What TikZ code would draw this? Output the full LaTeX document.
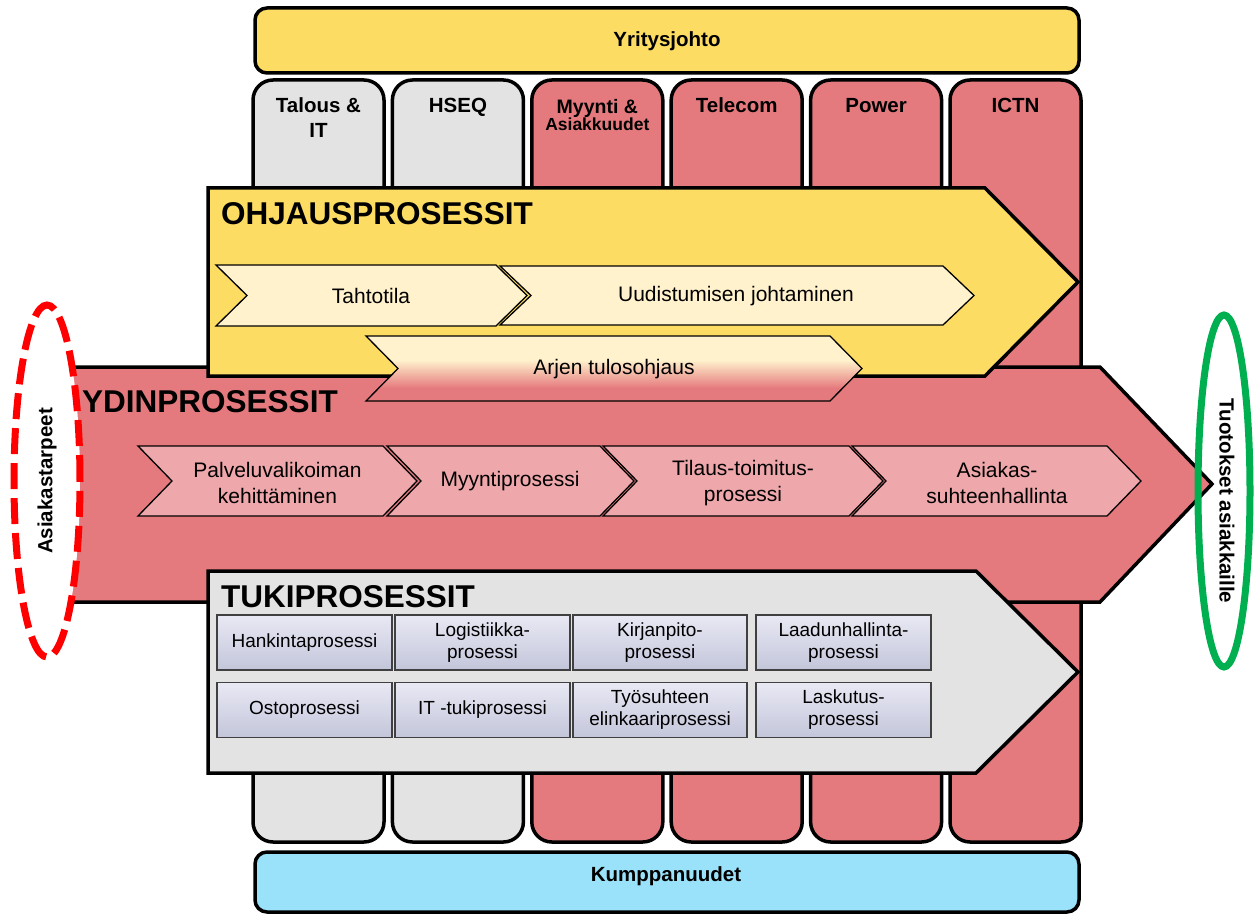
\documentclass[tikz,border=0pt]{standalone}
\usepackage{fontspec}
\setmainfont{Liberation Sans}

\definecolor{ohjY}{HTML}{FCDC62}
\definecolor{ydinR}{HTML}{E57A7E}
\definecolor{tukiG}{HTML}{E3E3E3}
\definecolor{kumpB}{HTML}{99E2FA}
\definecolor{creamC}{HTML}{FFF2CC}
\definecolor{pinkC}{HTML}{EEA7AA}
\definecolor{boxTop}{HTML}{E9E9F4}
\definecolor{boxBot}{HTML}{C3C5DA}
\definecolor{needRed}{HTML}{FF0000}
\definecolor{outGreen}{HTML}{00B050}

\tikzset{
  heavy/.style={draw=black, line width=3.5pt, line join=miter},
  unitbox/.style={heavy, rounded corners=20pt},
  bandbox/.style={heavy, rounded corners=12pt},
  unitlabel/.style={font=\bfseries\fontsize{20.5}{25}\selectfont, align=center, inner sep=0pt},
  bigtitle/.style={font=\bfseries\fontsize{31.5}{36}\selectfont, inner sep=0pt, anchor=base west},
  chev/.style={draw=black, line width=1.3pt, line join=miter},
  chevtext/.style={font=\fontsize{21}{25.5}\selectfont, align=center, inner sep=0pt},
  supbox/.style={draw=black!75, line width=1.3pt, top color=boxTop, bottom color=boxBot,
    minimum width=175pt, minimum height=55pt, inner sep=0pt, align=center,
    font=\fontsize{19}{22}\selectfont},
  oval/.style={line width=7pt},
  ovaltext/.style={font=\bfseries\fontsize{20.5}{24}\selectfont, inner sep=0pt},
}

% chevron: left x, right x, top y, bottom y, point depth, fill
\newcommand\chevron[6]{%
  \filldraw[chev, fill=#6] (#1,#3) -- (#2,#3) -- ({#2+#5},{(#3+#4)/2}) -- (#2,#4)
    -- (#1,#4) -- ({#1+#5},{(#3+#4)/2}) -- cycle;}

\begin{document}
\begin{tikzpicture}[x=1pt, y=-1pt]
\useasboundingbox (0,0) rectangle (1259,915);

% organisation units (columns)
\foreach \i/\c in {0/tukiG,1/tukiG,2/ydinR,3/ydinR,4/ydinR,5/ydinR}{
  \filldraw[unitbox, fill=\c] ({253+139.4*\i},80) rectangle ({384+139.4*\i},842);
}
\node[unitlabel] (talous) at (318.5,118) {Talous \&\\IT};
\node[unitlabel, anchor=base] (hseq) at (457.9,113) {HSEQ};
\node[align=center, inner sep=0pt, font=\bfseries] (myynti) at (597.3,115)
  {\fontsize{19.5}{22}\selectfont Myynti \&\\\fontsize{17.5}{22}\selectfont Asiakkuudet};
\node[unitlabel, anchor=base] (telecom) at (736.7,113) {Telecom};
\node[unitlabel, anchor=base] (power) at (876.1,113) {Power};
\node[unitlabel, anchor=base] (ictn) at (1015.5,113) {ICTN};

% top and bottom bands
\filldraw[bandbox, fill=ohjY] (255,8) rectangle (1079,73);
\node[unitlabel, anchor=base] (johto) at (667,47) {Yritysjohto};
\filldraw[bandbox, fill=kumpB] (255,852) rectangle (1079,912);
\node[unitlabel, anchor=base] (kumppanit) at (666,881) {Kumppanuudet};

% core process arrow
\filldraw[heavy, fill=ydinR] (66,367) -- (1100,367) -- (1212,484) -- (1100,602) -- (66,602) -- cycle;

% management process arrow
\filldraw[heavy, fill=ohjY] (208,188) -- (985,188) -- (1078,282) -- (985,376) -- (208,376) -- cycle;

% management chevrons
\chevron{216}{496}{265}{326}{31}{creamC}
\node[chevtext] (tahtotila) at (371,296) {Tahtotila};
\chevron{500}{943}{266}{325}{31}{creamC}
\node[chevtext] (uudistuminen) at (736,296) {Uudistumisen johtaminen};

\begin{scope}
  \clip (366,336) -- (830,336) -- (862,368.5) -- (830,401) -- (366,401) -- (398,368.5) -- cycle;
  \fill[creamC] (360,330) rectangle (870,360);
  \shade[top color=creamC, bottom color=ydinR] (360,360) rectangle (870,388);
  \fill[ydinR] (360,388) rectangle (870,405);
\end{scope}
\draw[chev] (366,336) -- (830,336) -- (862,368.5) -- (830,401) -- (366,401) -- (398,368.5) -- cycle;
\node[chevtext] (arki) at (614,369) {Arjen tulosohjaus};

% core chevrons
\chevron{138}{383}{446}{516}{34}{pinkC}
\node[chevtext] (palvelu) at (277.5,483) {Palveluvalikoiman\\kehittäminen};
\chevron{387}{600}{446}{516}{34}{pinkC}
\node[chevtext] (myyntip) at (510,481) {Myyntiprosessi};
\chevron{603}{849}{446}{516}{34}{pinkC}
\node[chevtext] (tilaus) at (743,483) {Tilaus-toimitus-\\prosessi};
\chevron{852}{1107}{446}{516}{34}{pinkC}
\node[chevtext] (asiakas) at (997,483) {Asiakas-\\suhteenhallinta};

% support process arrow
\filldraw[heavy, fill=tukiG] (208,571) -- (976,571) -- (1078,672) -- (976,773) -- (208,773) -- cycle;

% support process boxes
\node[supbox] (hankinta) at (304.5,642.5) {Hankintaprosessi};
\node[supbox] (logistiikka) at (482.5,642.5) {Logistiikka-\\prosessi};
\node[supbox, minimum width=174pt] (kirjanpito) at (660,642.5) {Kirjanpito-\\prosessi};
\node[supbox] (laatu) at (843.5,642.5) {Laadunhallinta-\\prosessi};
\node[supbox] (osto) at (304.5,710) {Ostoprosessi};
\node[supbox] (ittuki) at (482.5,710) {IT -tukiprosessi};
\node[supbox, minimum width=174pt] (tyosuhde) at (660,710) {Työsuhteen\\elinkaariprosessi};
\node[supbox] (laskutus) at (843.5,710) {Laskutus-\\prosessi};

% customer needs and outputs
\coordinate (tarpeet) at (47,481);
\filldraw[oval, draw=needRed, fill=white, dash pattern=on 26pt off 9pt]
  (tarpeet) ellipse [x radius=33pt, y radius=176pt];
\node[ovaltext, rotate=90] (tarpeetlabel) at (tarpeet) {Asiakastarpeet};
\coordinate (tuotokset) at (1224,491);
\draw[oval, draw=outGreen] (tuotokset) ellipse [x radius=26pt, y radius=176pt];
\node[ovaltext, rotate=-90] (tuotoksetlabel) at (1227,501) {Tuotokset asiakkaille};

% process group titles
\node[bigtitle] (ohjaus) at (221,224) {OHJAUSPROSESSIT};
\node[bigtitle] (ydin) at (82,412) {YDINPROSESSIT};
\node[bigtitle] (tuki) at (221,607) {TUKIPROSESSIT};
\end{tikzpicture}
\end{document}
